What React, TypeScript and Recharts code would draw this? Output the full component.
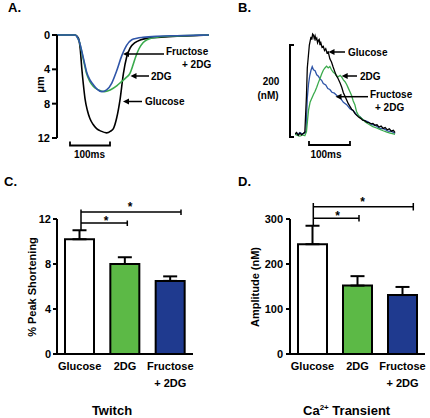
import React from 'react';
import { LineChart, Line, XAxis, YAxis, BarChart, Bar, ErrorBar, Cell } from 'recharts';

const W = 430;
const H = 418;
const FONT = '"Liberation Sans", Arial, Helvetica, sans-serif';

// ---------- Panel A: sarcomere shortening traces (um vs ms) ----------
const twitchTicks = [0, 4, 8, 12];
const glucoseTwitchT = [0, 45, 53, 58, 62, 66, 70, 76, 82, 90, 99, 110, 124, 134, 141, 149, 158, 166, 174, 183, 195, 210, 230, 260, 300, 340, 380];
const glucoseTwitchUm = [0, 0, 0.3, 1.6, 3.9, 5.8, 7.4, 8.8, 9.7, 10.4, 10.9, 11.2, 11.4, 11.2, 10.9, 9.7, 7.4, 4.5, 2.6, 1.5, 0.9, 0.55, 0.35, 0.25, 0.15, 0.08, 0];
const dgTwitchT = [0, 45, 50, 56, 62, 68, 74, 82, 91, 104, 118, 133, 150, 162, 172, 182, 190, 197, 205, 215, 228, 250, 300, 380];
const dgTwitchUm = [0, 0, 0.2, 0.8, 2.0, 3.3, 4.5, 5.4, 6.0, 6.4, 6.6, 6.4, 5.9, 5.4, 5.0, 4.5, 3.5, 2.5, 1.6, 0.9, 0.5, 0.25, 0.1, 0];
const fruTwitchT = [0, 45, 50, 56, 62, 68, 74, 82, 91, 100, 112, 124, 137, 149, 162, 174, 187, 200, 215, 250, 300, 380];
const fruTwitchUm = [0, 0, 0.2, 0.8, 1.9, 3.1, 4.3, 5.2, 5.8, 6.3, 6.6, 6.4, 5.6, 4.2, 2.4, 1.2, 0.55, 0.38, 0.28, 0.15, 0.08, 0];

// ---------- Panel B: Ca2+ transient traces (nM vs ms) ----------
const glucoseCaT = [0, 4, 8, 12, 16, 20, 24, 28, 30, 35, 39, 41, 43, 45, 47, 49, 51, 53, 55, 57, 59, 61, 63, 66, 69, 72, 75, 78, 81, 85, 89, 93, 97, 101, 105, 110, 114, 118, 122, 126, 130, 134, 138, 142, 146, 150, 155, 160, 165, 170, 175, 180, 185, 190, 195, 200, 205, 210, 215, 220, 225, 230, 235, 240, 244];
const glucoseCaNM = [6, 9, 3, 8, 4, 7, 10, 90, 150, 200, 218, 212, 224, 222, 214, 220, 212, 215, 205, 210, 212, 200, 205, 195, 197, 188, 192, 183, 185, 170, 163, 152, 142, 133, 127, 117, 108, 96, 88, 80, 72, 66, 60, 57, 51, 47, 43, 40, 36, 35, 32, 31, 28, 29, 25, 26, 21, 23, 18, 20, 15, 17, 12, 14, 9];
const fruCaT = [0, 6, 12, 18, 24, 27, 30, 33, 36, 39, 42, 45, 49, 53, 57, 61, 65, 69, 75, 80, 85, 90, 96, 102, 110, 118, 126, 134, 142, 150, 158, 167, 177, 187, 197, 207, 217, 227, 237, 244];
const fruCaNM = [7, 5, 9, 6, 8, 12, 84, 115, 133, 145, 153, 146, 144, 135, 132, 126, 123, 116, 113, 105, 103, 97, 95, 90, 85, 75, 70, 61, 57, 48, 44, 36, 33, 27, 24, 18, 17, 12, 11, 7];
const dgCaT = [0, 6, 12, 18, 24, 28, 31, 33, 37, 41, 45, 49, 53, 57, 61, 65, 69, 73, 77, 81, 85, 89, 93, 97, 101, 106, 110, 114, 118, 122, 126, 130, 134, 138, 142, 146, 150, 155, 160, 165, 170, 175, 182, 190, 199, 207, 215, 224, 232, 240, 244];
const dgCaNM = [5, 3, 1, 4, 2, 11, 40, 58, 76, 84, 92, 99, 108, 118, 127, 137, 145, 150, 154, 150, 153, 146, 141, 138, 133, 131, 134, 130, 124, 120, 114, 106, 98, 90, 78, 70, 55, 46, 42, 38, 33, 30, 26, 22, 19, 16, 13, 10, 8, 6, 5];

// ---------- Panels C & D: bar summaries ----------
const groups = ['Glucose', '2DG', 'Fructose + 2DG'];
const groupColors = ['#ffffff', '#5cb946', '#1f3a8f'];
const twitchMean = [10.2, 8.0, 6.5];
const twitchSem = [0.8, 0.6, 0.4];
const twitchAxisTicks = [0, 4, 8, 12];
const caMean = [244, 152, 131];
const caSem = [41, 21, 18];
const caAxisTicks = [0, 100, 200, 300];

const zip = (t: number[], v: number[]) => t.map((x, i) => ({ t: x, v: v[i] }));
const twitchRows = groups.map((g, i) => ({ group: g, mean: twitchMean[i], err: [0, twitchSem[i]] }));
const caRows = groups.map((g, i) => ({ group: g, mean: caMean[i], err: [0, caSem[i]] }));

const tickStyle = { fill: '#000', fontSize: 11, fontWeight: 'bold', fontFamily: FONT };
const abs: React.CSSProperties = { position: 'absolute', left: 0, top: 0 };

const CatTick = (props: any) => {
  const { x, y, payload } = props;
  const lines = payload.value === 'Fructose + 2DG' ? ['Fructose', '+ 2DG'] : [payload.value];
  return (
    <text x={x} y={y} textAnchor="middle" fontSize={11} fontWeight="bold" fontFamily={FONT} fill="#000">
      {lines.map((l: string, i: number) => (
        <tspan key={i} x={x} dy={i === 0 ? 16 : 17}>{l}</tspan>
      ))}
    </text>
  );
};

const Arrow = ({ tip, tail, y }: { tip: number; tail: number; y: number }) => (
  <g>
    <line x1={tip + 4} y1={y} x2={tail} y2={y} stroke="#000" strokeWidth={1.5} />
    <polygon points={`${tip},${y} ${tip + 6},${y - 3} ${tip + 6},${y + 3}`} fill="#000" />
  </g>
);

const lbl = { fontFamily: FONT, fontWeight: 'bold' as const, fill: '#000' };

export default function App() {
  return (
    <div style={{ position: 'absolute', left: 0, top: 0, width: W, height: H, background: '#fff', overflow: 'hidden' }}>
      {/* Panel A */}
      <div style={abs}>
        <LineChart width={W} height={H} margin={{ top: 35, right: W - 209, bottom: H - 138, left: 17 }}>
          <XAxis type="number" dataKey="t" domain={[0, 380]} hide allowDataOverflow />
          <YAxis type="number" domain={[0, 12]} ticks={twitchTicks} reversed width={40} interval={0}
            axisLine={{ stroke: '#000', strokeWidth: 2 }} tickLine={{ stroke: '#000', strokeWidth: 2 }}
            tickSize={5} tickMargin={2} tick={tickStyle} />
          <Line data={zip(glucoseTwitchT, glucoseTwitchUm)} dataKey="v" type="monotone" stroke="#000" strokeWidth={1.6} dot={false} isAnimationActive={false} />
          <Line data={zip(dgTwitchT, dgTwitchUm)} dataKey="v" type="monotone" stroke="#3aaa4c" strokeWidth={1.6} dot={false} isAnimationActive={false} />
          <Line data={zip(fruTwitchT, fruTwitchUm)} dataKey="v" type="monotone" stroke="#2f55a8" strokeWidth={1.6} dot={false} isAnimationActive={false} />
        </LineChart>
      </div>

      {/* Panel B */}
      <div style={abs}>
        <LineChart width={W} height={H} margin={{ top: 26.7, right: W - 397.5, bottom: H - 136.7, left: 295 }}>
          <XAxis type="number" dataKey="t" domain={[0, 250]} hide allowDataOverflow />
          <YAxis type="number" domain={[0, 240]} hide allowDataOverflow />
          <Line data={zip(fruCaT, fruCaNM)} dataKey="v" type="linear" stroke="#2f55a8" strokeWidth={1.3} dot={false} isAnimationActive={false} />
          <Line data={zip(dgCaT, dgCaNM)} dataKey="v" type="linear" stroke="#3aaa4c" strokeWidth={1.3} dot={false} isAnimationActive={false} />
          <Line data={zip(glucoseCaT, glucoseCaNM)} dataKey="v" type="linear" stroke="#000" strokeWidth={1.3} dot={false} isAnimationActive={false} />
        </LineChart>
      </div>

      {/* Panel C */}
      <div style={abs}>
        <BarChart width={W} height={H} data={twitchRows} margin={{ top: 219, right: W - 193, bottom: 34, left: 17 }}>
          <XAxis dataKey="group" height={30} interval={0} tickLine={false} tickSize={0} tickMargin={0}
            axisLine={{ stroke: '#000', strokeWidth: 2 }} tick={<CatTick />} />
          <YAxis type="number" domain={[0, 12]} ticks={twitchAxisTicks} width={40} interval={0}
            axisLine={{ stroke: '#000', strokeWidth: 2 }} tickLine={{ stroke: '#000', strokeWidth: 2 }}
            tickSize={4} tickMargin={2} tick={tickStyle} />
          <Bar dataKey="mean" barSize={29} stroke="#000" strokeWidth={2} isAnimationActive={false}>
            {twitchRows.map((r, i) => <Cell key={r.group} fill={groupColors[i]} />)}
            <ErrorBar dataKey="err" direction="y" width={7} stroke="#000" strokeWidth={2} />
          </Bar>
        </BarChart>
      </div>

      {/* Panel D */}
      <div style={abs}>
        <BarChart width={W} height={H} data={caRows} margin={{ top: 219, right: W - 425, bottom: 34, left: 250 }}>
          <XAxis dataKey="group" height={30} interval={0} tickLine={false} tickSize={0} tickMargin={0}
            axisLine={{ stroke: '#000', strokeWidth: 2 }} tick={<CatTick />} />
          <YAxis type="number" domain={[0, 300]} ticks={caAxisTicks} width={40} interval={0}
            axisLine={{ stroke: '#000', strokeWidth: 2 }} tickLine={{ stroke: '#000', strokeWidth: 2 }}
            tickSize={4} tickMargin={3} tick={tickStyle} />
          <Bar dataKey="mean" barSize={29} stroke="#000" strokeWidth={2} isAnimationActive={false}>
            {caRows.map((r, i) => <Cell key={r.group} fill={groupColors[i]} />)}
            <ErrorBar dataKey="err" direction="y" width={7} stroke="#000" strokeWidth={2} />
          </Bar>
        </BarChart>
      </div>

      {/* Annotations overlay */}
      <svg width={W} height={H} style={{ ...abs, pointerEvents: 'none' }}>
        {/* panel letters */}
        <text x={8} y={12} fontSize={13} {...lbl}>A.</text>
        <text x={238} y={12} fontSize={13} {...lbl}>B.</text>
        <text x={4} y={186} fontSize={13} {...lbl}>C.</text>
        <text x={238} y={186} fontSize={13} {...lbl}>D.</text>

        {/* Panel A annotations */}
        <text transform="translate(39.5,84.5) rotate(-90)" textAnchor="middle" dominantBaseline="central" fontSize={11} {...lbl}>μm</text>
        <text x={166} y={55} fontSize={10} {...lbl}>Fructose</text>
        <text x={182} y={68} fontSize={10} {...lbl}>+ 2DG</text>
        <Arrow tip={123} tail={164} y={54} />
        <text x={151} y={80} fontSize={10} {...lbl}>2DG</text>
        <Arrow tip={130.5} tail={149} y={76} />
        <text x={145} y={105} fontSize={10} {...lbl}>Glucose</text>
        <Arrow tip={123} tail={142} y={101.5} />
        <path d="M70,141.5 V145.5 H110 V141.5" fill="none" stroke="#000" strokeWidth={1.8} />
        <text x={89.5} y={157.5} textAnchor="middle" fontSize={10} {...lbl}>100ms</text>

        {/* Panel B annotations */}
        <path d="M294,45 H290 V137 H294" fill="none" stroke="#000" strokeWidth={2} />
        <text x={271} y={85} textAnchor="middle" fontSize={10} {...lbl}>200</text>
        <text x={268} y={98.5} textAnchor="middle" fontSize={10} {...lbl}>(nM)</text>
        <text x={348} y={55.5} fontSize={10} {...lbl}>Glucose</text>
        <Arrow tip={328.5} tail={345} y={52} />
        <text x={360} y={79.5} fontSize={10} {...lbl}>2DG</text>
        <Arrow tip={341.7} tail={357} y={76} />
        <text x={370} y={98} fontSize={10} {...lbl}>Fructose</text>
        <text x={375} y={110.5} fontSize={10} {...lbl}>+ 2DG</text>
        <Arrow tip={335.5} tail={368} y={96.7} />
        <path d="M309,141 V145 H350 V141" fill="none" stroke="#000" strokeWidth={1.8} />
        <text x={326} y={157.5} textAnchor="middle" fontSize={10} {...lbl}>100ms</text>

        {/* Panel C annotations */}
        <text transform="translate(32,287) rotate(-90)" textAnchor="middle" dominantBaseline="central" fontSize={11} {...lbl}>% Peak Shortening</text>
        <path d="M81,231 V209.5 M81,212 H181 M181,209.5 V215 M81,223 H127.3 M127.3,220.5 V226" fill="none" stroke="#000" strokeWidth={1.5} />
        <text x={130} y={211} textAnchor="middle" fontSize={12} {...lbl}>*</text>
        <text x={106} y={225} textAnchor="middle" fontSize={12} {...lbl}>*</text>
        <text x={112} y={414.5} textAnchor="middle" fontSize={13} {...lbl}>Twitch</text>

        {/* Panel D annotations */}
        <text transform="translate(255,287) rotate(-90)" textAnchor="middle" dominantBaseline="central" fontSize={11} {...lbl}>Amplitude (nM)</text>
        <path d="M313.3,225 V203 M313.3,206.7 H413.3 M413.3,203 V210.5 M313.3,218.3 H359 M359,215 V221.5" fill="none" stroke="#000" strokeWidth={1.5} />
        <text x={362.7} y={206} textAnchor="middle" fontSize={12} {...lbl}>*</text>
        <text x={337.7} y={219.7} textAnchor="middle" fontSize={12} {...lbl}>*</text>
        <text x={303} y={414.5} fontSize={13} {...lbl}>
          <tspan>Ca</tspan>
          <tspan dy={-5} fontSize={8}>2+</tspan>
          <tspan dy={5}> Transient</tspan>
        </text>
      </svg>
    </div>
  );
}
